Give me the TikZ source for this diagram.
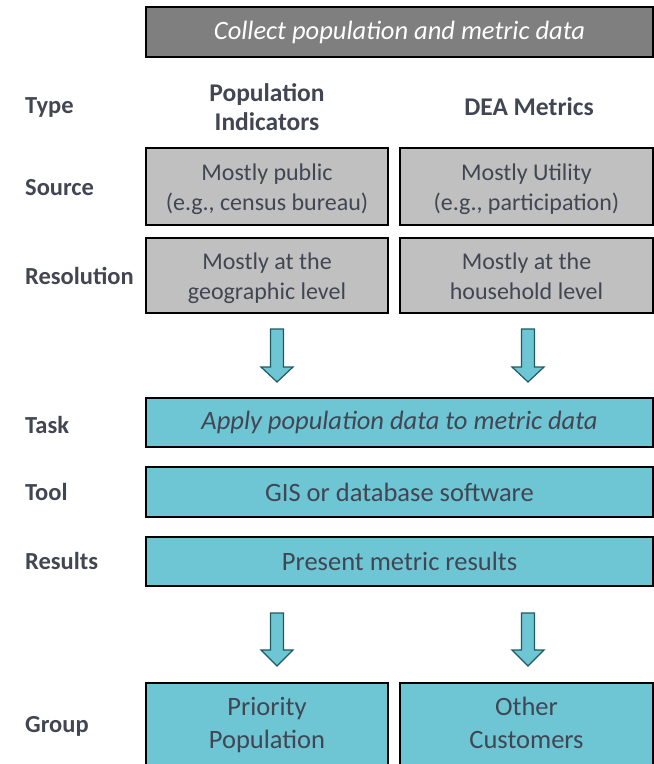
\documentclass[tikz,border=0pt]{standalone}
\usepackage{fontspec}
\setmainfont{Carlito}
\definecolor{txt}{HTML}{414652}
\definecolor{tealfill}{HTML}{6EC5D4}
\definecolor{tealline}{HTML}{1E5A62}
\definecolor{lightgray}{HTML}{C0C0C0}
\definecolor{darkgray}{HTML}{7F7F7F}
% invisible rules fixing first-line height and last-line depth of two-line boxes
\newcommand\graytop{\rule{0pt}{25pt}}
\newcommand\graybot{\rule[-8pt]{0pt}{8pt}}
\newcommand\grouptop{\rule{0pt}{24pt}}
\newcommand\groupbot{\rule[-10pt]{0pt}{10pt}}
\tikzset{
  box/.style={draw=black, line width=1.3pt, inner sep=0pt, align=center,
    text=txt, font=\fontsize{26.5}{30.5}\selectfont},
  graybox/.style={box, fill=lightgray, font=\fontsize{24}{30}\selectfont},
  tealbox/.style={box, fill=tealfill},
  groupbox/.style={box, fill=tealfill, font=\fontsize{26.5}{33}\selectfont},
  lab/.style={anchor=base west, inner sep=0pt, text=txt,
    font=\fontsize{24.5}{29}\selectfont\bfseries},
  head/.style={inner sep=0pt, align=center, text=txt,
    font=\fontsize{25.5}{29}\selectfont\bfseries},
  blockarrow/.style={fill=tealfill, draw=tealline, line width=1.2pt, line join=miter}
}
% block arrow pointing down: centre x, top y, head start y, tip y
\newcommand\downarrowblock[4]{%
  \draw[blockarrow] (#1-6.5,#2) -- (#1+6.5,#2) -- (#1+6.5,#3) -- (#1+16,#3)
    -- (#1,#4) -- (#1-16,#3) -- (#1-6.5,#3) -- cycle;}
\begin{document}
\begin{tikzpicture}[x=1pt, y=-1pt]
\useasboundingbox (0,0) rectangle (654,764);

% header row
\node[box, fill=darkgray, text=white, minimum width=507pt, minimum height=50pt,
  font=\fontsize{26.5}{30.5}\selectfont\itshape] (collect) at (399.5,32)
  {Collect population and metric data};

% row labels
\node[lab] (ltype) at (25,113) {Type};
\node[lab] (lsource) at (25,195) {Source};
\node[lab] (lres) at (25,284) {Resolution};
\node[lab] (ltask) at (25,433) {Task};
\node[lab] (ltool) at (25,500) {Tool};
\node[lab] (lresults) at (25,569) {Results};
\node[lab] (lgroup) at (25,732) {Group};

% column headings (base anchor sits on the last line)
\node[head, anchor=base] (hpop) at (267,130) {Population\\Indicators};
\node[head, anchor=base] (hdea) at (529,115) {DEA Metrics};

% source and resolution boxes
\node[graybox, minimum width=242pt, minimum height=77pt] (srcpop) at (267,186.5)
  {\graytop Mostly public\\(e.g., census bureau)\graybot};
\node[graybox, minimum width=253pt, minimum height=77pt] (srcdea) at (526.5,186.5)
  {\graytop Mostly Utility\\(e.g., participation)\graybot};
\node[graybox, minimum width=242pt, minimum height=75pt] (respop) at (267,275.5)
  {\graytop Mostly at the\\geographic level\graybot};
\node[graybox, minimum width=253pt, minimum height=75pt] (resdea) at (526.5,275.5)
  {\graytop Mostly at the\\household level\graybot};

% arrows into the task
\downarrowblock{277}{329}{367}{382}
\downarrowblock{528}{329}{367}{382}

% processing steps
\node[tealbox, minimum width=507pt, minimum height=49pt,
  font=\fontsize{26.5}{30.5}\selectfont\itshape] (task) at (399.5,422.5)
  {Apply population data to metric data};
\node[tealbox, minimum width=507pt, minimum height=50pt] (tool) at (399.5,492)
  {GIS or database software};
\node[tealbox, minimum width=507pt, minimum height=49pt] (results) at (399.5,561.5)
  {Present metric results};

% arrows into the groups
\downarrowblock{277}{613}{650}{666}
\downarrowblock{528}{613}{650}{666}

% groups
\node[groupbox, minimum width=242pt, minimum height=83pt] (gprio) at (267,724.5)
  {\grouptop Priority\\Population\groupbot};
\node[groupbox, minimum width=253pt, minimum height=83pt] (gother) at (526.5,724.5)
  {\grouptop Other\\Customers\groupbot};
\end{tikzpicture}
\end{document}
